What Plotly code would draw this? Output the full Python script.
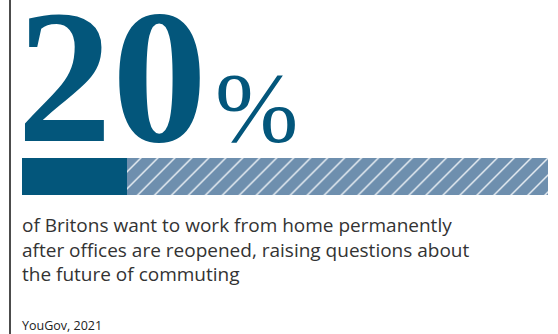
import plotly.graph_objects as go

W, H = 558, 334
share_label = ["20"]
share_values = [20]
rest_values = [80]
category = ["Britons"]
headline_suffix = "%"
body_lines = [
    "of Britons want to work from home permanently",
    "after offices are reopened, raising questions about",
    "the future of commuting",
]
source = "YouGov, 2021"

DARK = "#03567B"
LIGHT = "#6E8FAE"
SERIF = "Liberation Serif"
SANS = "Open Sans"

fig = go.Figure()
fig.add_trace(go.Bar(x=share_values, y=category, orientation="h",
                     marker=dict(color=DARK, line=dict(width=0)), hoverinfo="skip"))
fig.add_trace(go.Bar(x=rest_values, y=category, orientation="h",
                     marker=dict(color=LIGHT, line=dict(width=0),
                                 pattern=dict(shape="/", fgcolor="white", fgopacity=0.85,
                                              size=12, solidity=0.12)),
                     hoverinfo="skip"))

def px(x):
    return x / W

def py(y):
    return 1 - y / H

fig.update_layout(
    width=W, height=H, margin=dict(l=0, r=0, t=0, b=0),
    paper_bgcolor="white", plot_bgcolor="white",
    barmode="stack", bargap=0, showlegend=False,
    xaxis=dict(range=[0, 100], domain=[px(22), px(548)], visible=False, fixedrange=True),
    yaxis=dict(range=[-0.5, 0.5], domain=[py(195), py(158)], visible=False, fixedrange=True),
)

fig.add_shape(type="line", xref="paper", yref="paper", x0=px(10), x1=px(10), y0=0, y1=1,
              line=dict(color="#111111", width=1.5))

fig.add_annotation(xref="paper", yref="paper", x=px(15), y=py(77), xanchor="left", yanchor="middle",
                   text=share_label[0], showarrow=False,
                   font=dict(family=SERIF, size=190, color=DARK, weight="bold"))
fig.add_annotation(xref="paper", yref="paper", x=px(213), y=py(107), xanchor="left", yanchor="middle",
                   text=headline_suffix, showarrow=False,
                   font=dict(family=SERIF, size=100, color=DARK))

fig.add_annotation(xref="paper", yref="paper", x=px(20), y=py(210), xanchor="left", yanchor="top",
                   align="left", text="<br>".join(body_lines), showarrow=False,
                   font=dict(family=SANS, size=19, color="#333333"))

fig.add_annotation(xref="paper", yref="paper", x=px(20), y=py(325), xanchor="left", yanchor="middle",
                   text=source, showarrow=False,
                   font=dict(family=SANS, size=12.5, color="#222222"))

fig.write_html("out.html")
